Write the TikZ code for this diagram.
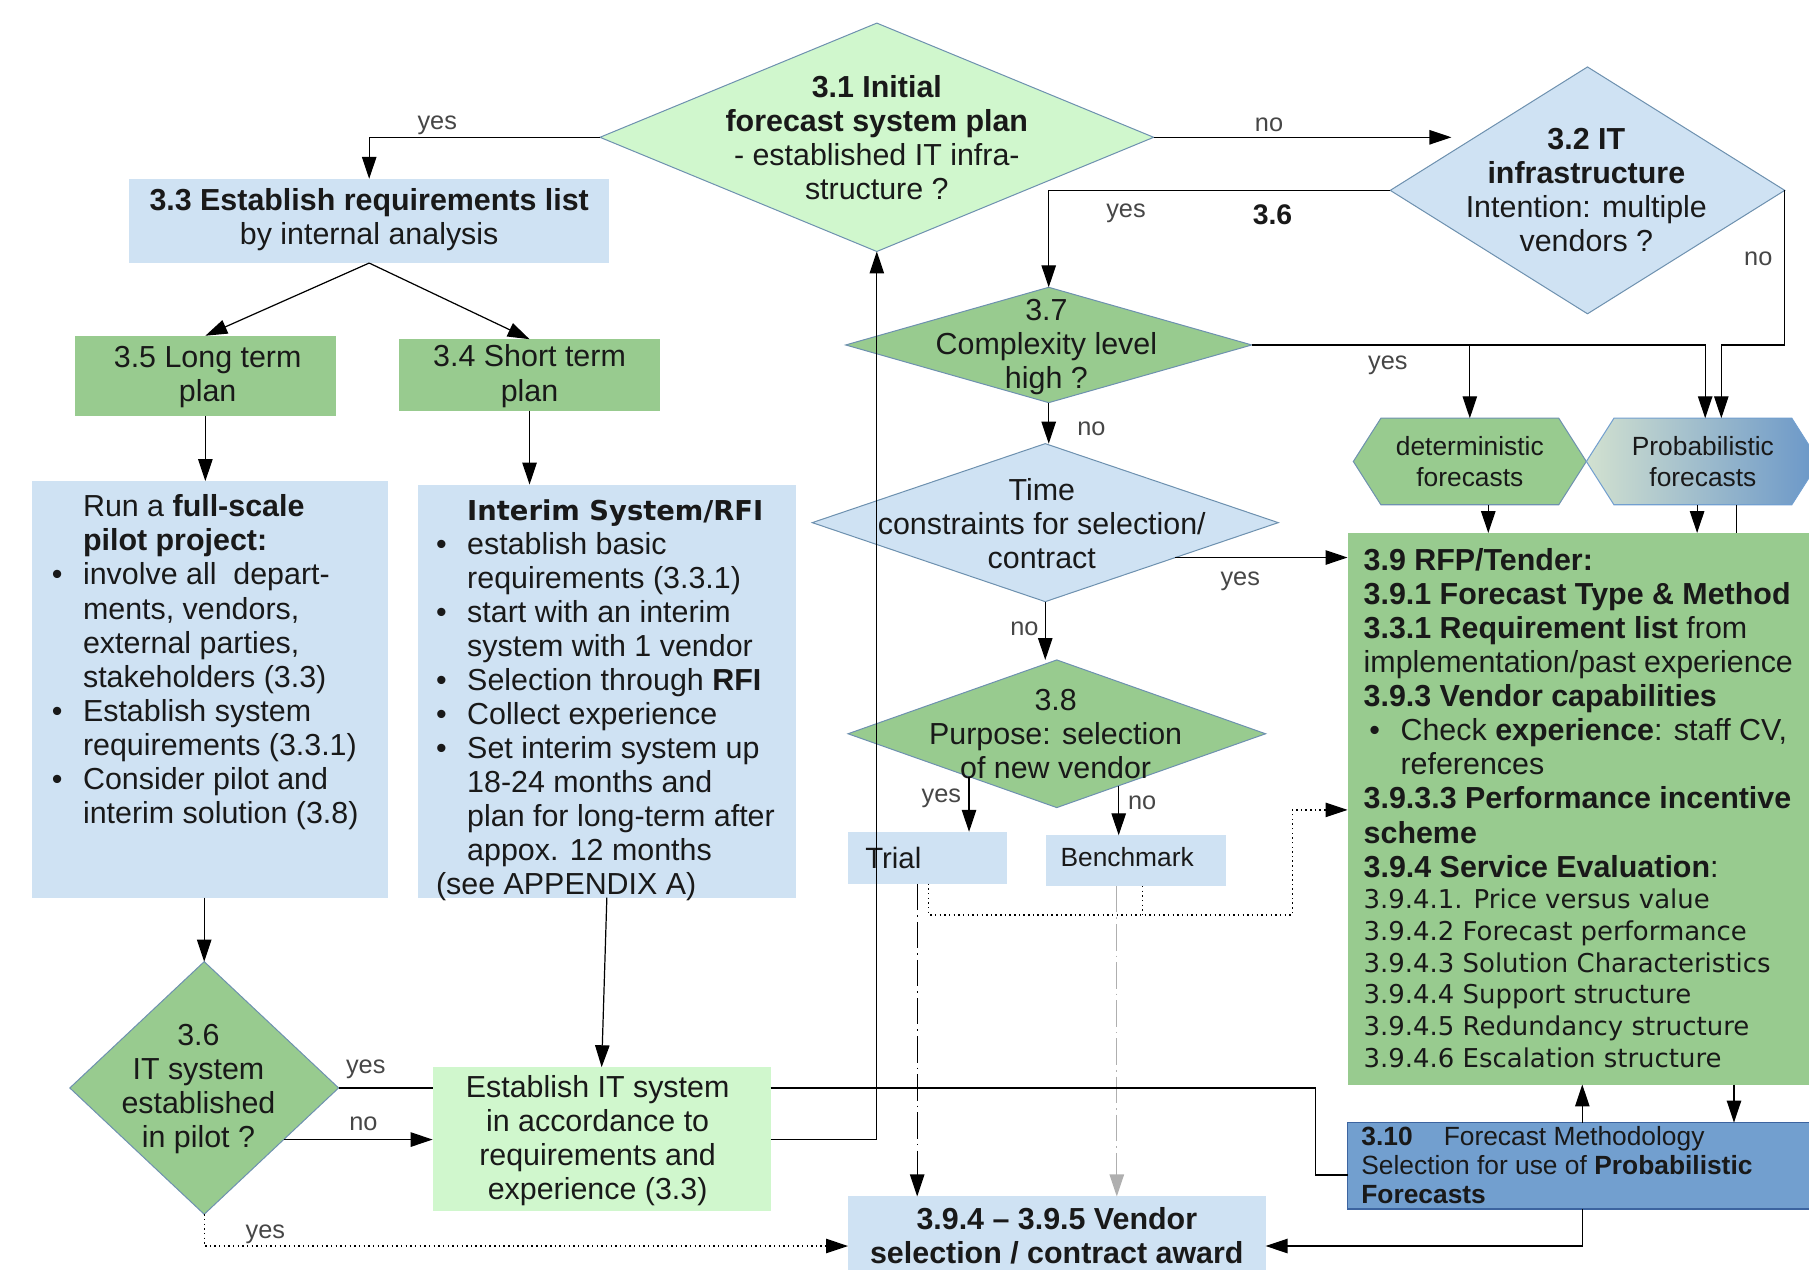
\documentclass[tikz,border=0pt]{standalone}
\usepackage{fontspec}
\setmainfont{Liberation Sans}
\newfontfamily\dejavu{DejaVu Sans}
\usepackage{tikz}
\usetikzlibrary{arrows.meta,shapes.geometric,shapes.symbols,fit,calc}
\definecolor{lblue}{RGB}{207,226,243}
\definecolor{pgreen}{RGB}{208,247,205}
\definecolor{mgreen}{RGB}{152,203,143}
\definecolor{dblue}{RGB}{114,159,207}
\definecolor{dbluedark}{RGB}{60,100,160}
\definecolor{dborder}{RGB}{110,145,175}
\definecolor{ink}{RGB}{25,25,25}
\definecolor{labgray}{RGB}{70,70,70}
\definecolor{lgray}{RGB}{175,175,175}
\definecolor{probl}{RGB}{210,225,208}
\definecolor{probr}{RGB}{105,150,200}
\newcommand{\bul}{\makebox[0.54cm][l]{\textbullet}}
\newcommand{\bulskip}{\hspace*{0.54cm}}

\begin{document}
\begin{tikzpicture}[x=0.02cm, y=-0.02cm,
  every node/.style={inner sep=0pt, outer sep=0pt},
  txt/.style={font=\fontsize{15}{16.8}\selectfont, text=ink, align=left},
  ctxt/.style={txt, align=center},
  lab/.style={font=\fontsize{12.5}{14}\selectfont, text=labgray},
  dia/.style={diamond, draw=dborder, line width=0.5pt, fill=#1},
  hexa/.style={signal, signal to=west and east, signal pointer angle=115, draw=dborder, line width=0.5pt, minimum width=4.04cm, minimum height=1.5cm, font=\fontsize{13}{15}\selectfont, text=ink, align=center},
  conn/.style={draw=black, line width=0.6pt},
  conarr/.style={conn, -{Triangle[length=0.38cm, width=0.25cm]}},
  dotted line/.style={dash pattern=on 0.7pt off 1.6pt},
  dashdot/.style={dash pattern=on 13pt off 2.5pt on 0.8pt off 2.5pt}]

  \useasboundingbox (0,0) rectangle (1568,1100);

  \node[dia=pgreen, minimum width=9.6cm, minimum height=3.96cm] (d31) at (760,119) {};
  \node[ctxt] (t31) at (760,119) {\textbf{3.1 Initial}\\\textbf{forecast system plan}\\- established IT infra-\\structure ?};
  \node[dia=lblue, minimum width=6.84cm, minimum height=4.28cm] (d32) at (1376,165) {};
  \node[ctxt] (t32) at (1375,165) {\textbf{3.2 IT}\\\textbf{infrastructure}\\Intention: multiple\\vendors ?};
  \node[dia=mgreen, minimum width=7.04cm, minimum height=2cm] (d37) at (909,299) {};
  \node[ctxt] (t37) at (907,301) {3.7\\Complexity level\\high ?};
  \node[dia=lblue, minimum width=8.08cm, minimum height=2.74cm] (dtime) at (906,453) {};
  \node[ctxt] (ttime) at (903,454) {Time\\constraints for selection/\\contract};
  \node[dia=mgreen, minimum width=7.24cm, minimum height=2.56cm] (d38) at (916,636) {};
  \node[ctxt] (t38) at (915,636) {3.8\\Purpose: selection\\of new vendor};
  \node[dia=mgreen, minimum width=4.66cm, minimum height=4.38cm] (d36) at (177,943) {};
  \node[ctxt] (t36) at (172,944) {3.6\\IT system\\established\\in pilot ?};

  \node[fill=lblue, fit={(112,155) (528,228)}] (b33) {};
  \node[ctxt] (t33) at (320,190) {\textbf{3.3 Establish requirements list}\\by internal analysis};
  \node[fill=mgreen, fit={(65,291) (291,361)}] (b35) {};
  \node[ctxt] (t35) at (180,327) {3.5 Long term\\plan};
  \node[fill=mgreen, fit={(346,294) (572,356)}] (b34) {};
  \node[ctxt] (t34) at (459,326) {3.4 Short term\\plan};
  \node[fill=lblue, fit={(28,417) (336,778)}] (brun) {};
  \node[txt, anchor=west] (runtxt) at (45,574) {\bulskip Run a \textbf{full-scale}\\\bulskip\textbf{pilot project:}\\\bul involve all\ \ depart-\\\bulskip ments, vendors,\\\bulskip external parties,\\\bulskip stakeholders (3.3)\\\bul Establish system\\\bulskip requirements (3.3.1)\\\bul Consider pilot and\\\bulskip interim solution (3.8)};
  \node[fill=lblue, fit={(362,420) (690,778)}] (bint) {};
  \node[txt, anchor=west] (inttxt) at (378,607) {\bulskip{\dejavu\bfseries\fontsize{13.5}{16.8}\selectfont Interim System/RFI}\\\bul establish basic\\\bulskip requirements (3.3.1)\\\bul start with an interim\\\bulskip system with 1 vendor\\\bul Selection through \textbf{RFI}\\\bul Collect experience\\\bul Set interim system up\\\bulskip 18-24 months and\\\bulskip plan for long-term after\\\bulskip appox. 12 months\\(see APPENDIX A)};
  \node[fill=pgreen, fit={(375,925) (668,1050)}] (est) {};
  \node[ctxt] (testab) at (518,989) {Establish IT system\\in accordance to\\requirements and\\experience (3.3)};
  \node[fill=lblue, fit={(735,721) (873,766)}] (trial) {};
  \node[txt, font=\fontsize{14.5}{16}\selectfont, anchor=west] (trialtxt) at (750,744) {Trial};
  \node[fill=lblue, fit={(907,724) (1063,768)}] (bench) {};
  \node[txt, font=\fontsize{13}{15}\selectfont] (benchtxt) at (977,743) {Benchmark};
  \node[fill=lblue, fit={(735,1037) (1097,1123)}] (vend) {};
  \node[ctxt, font=\bfseries\fontsize{15}{16.8}\selectfont] (vendtxt) at (916,1071) {3.9.4 – 3.9.5 Vendor\\selection / contract award};
  \node[fill=mgreen, fit={(1168,462) (1575,940)}] (rfp) {};
  \node[txt, anchor=west] (rfptxta) at (1182,618) {\textbf{3.9 RFP/Tender:}\\\textbf{3.9.1 Forecast Type \& Method}\\\textbf{3.3.1 Requirement list} from\\implementation/past experience\\\textbf{3.9.3 Vendor capabilities}\\\hspace*{0.1cm}\bul Check \textbf{experience}: staff CV,\\\hspace*{0.1cm}\bulskip references\\\textbf{3.9.3.3 Performance incentive}\\\textbf{scheme}\\\textbf{3.9.4 Service Evaluation}:};
  \node[txt, font=\dejavu\fontsize{12.8}{15.66}\selectfont, anchor=west] (rfptxtb) at (1182,848) {3.9.4.1. Price versus value\\3.9.4.2 Forecast performance\\3.9.4.3 Solution Characteristics\\3.9.4.4 Support structure\\3.9.4.5 Redundancy structure\\3.9.4.6 Escalation structure};
  \node[fill=dblue, draw=dbluedark, line width=0.6pt, fit={(1168,973) (1575,1048)}] (b310) {};
  \node[txt, font=\fontsize{13}{14.2}\selectfont, anchor=west] (t310) at (1180,1010) {\textbf{3.10}\hspace{0.54cm}Forecast Methodology\\Selection for use of \textbf{Probabilistic}\\\textbf{Forecasts}};

  \node[hexa, fill=mgreen] (det) at (1274,400) {deterministic\\forecasts};
  \node[hexa, left color=probl, right color=probr, draw=dblue] (prob) at (1476,400) {Probabilistic\\forecasts};

  \node[lab] (lyes31) at (379,109) {yes};
  \node[lab] (lno31) at (1100,108) {no};
  \node[lab] (lyes32) at (976,185) {yes};
  \node[font=\bfseries\fontsize{14}{16}\selectfont, text=ink] (l36) at (1103,186) {3.6};
  \node[lab] (lno32) at (1524,224) {no};
  \node[lab] (lyes37) at (1203,317) {yes};
  \node[lab] (lno37) at (946,372) {no};
  \node[lab] (lyestime) at (1075,504) {yes};
  \node[lab] (lnotime) at (888,545) {no};
  \node[lab] (lyes38) at (816,692) {yes};
  \node[lab] (lno38) at (990,696) {no};
  \node[lab] (lyes36a) at (317,927) {yes};
  \node[lab] (lno36) at (315,974) {no};
  \node[lab] (lyes36b) at (230,1070) {yes};

  \draw[conarr] (d31.west) -| (b33.north);
  \draw[conarr] (d31.east) -- ([xshift=-0.4cm]d31.east -| d32.155);
  \draw[conarr] (d32.west) -| (d37.north);
  \draw[conarr] (d32.east) -- (d32.east |- d37.east) -| ([xshift=0.32cm]prob.north);
  \draw[conarr] (d37.east) -| ([xshift=0.04cm]prob.north);
  \draw[conarr] (d37.east -| det.north) -- (det.north);
  \draw[conarr] (d37.south) -- (d37.south |- dtime.north);
  \draw[conarr] (dtime.-15) -- (dtime.-15 -| rfp.west);
  \draw[conarr] (dtime.south) -- (dtime.south |- d38.north);
  \draw[conarr] (d38.206) -- (d38.206 |- trial.north);
  \draw[conarr] (d38.-40) -- (d38.-40 |- bench.north);
  \draw[conarr, dashdot] ([xshift=-0.18cm]trial.south) -- ([xshift=-0.18cm]trial.south |- vend.north);
  \draw[conarr, dashdot, draw=lgray] ([xshift=-0.34cm]bench.south) -- ([xshift=-0.34cm]bench.south |- vend.north);
  \coordinate (dotturn) at (1120,702);
  \draw[conarr, dotted line] ([xshift=0.02cm]trial.south) -- ++(0,27) -| (dotturn) -- (dotturn -| rfp.west);
  \draw[conn, dotted line] ([xshift=0.1cm]bench.south) -- ++(0,25);

  \draw[conn] (d36.east) -- (d36.east -| est.west);
  \draw[conn] (d36.east -| est.east) -- ++(472,0) |- ([yshift=-0.16cm]b310.west);
  \draw[conarr] (d36.-33) -- (d36.-33 -| est.west);
  \draw[conarr, dotted line] (d36.south) |- (vend.west);
  \draw[conarr] (est.east) -| (d31.south);
  \draw[conarr] (b33.south) -- (b35.north);
  \draw[conarr] (b33.south) -- (b34.north);
  \draw[conarr] (b35.south) -- (b35.south |- brun.north);
  \draw[conarr] (b34.south) -- (b34.south |- bint.north);
  \draw[conarr] (d36.north |- brun.south) -- (d36.north);
  \draw[conarr] (bint.south) -- (est.north);
  \draw[conarr] ([xshift=0.32cm]det.south) -- ([xshift=0.32cm]det.south |- rfp.north);
  \draw[conarr] ([xshift=-0.1cm]prob.south) -- ([xshift=-0.1cm]prob.south |- rfp.north);
  \draw[conn] ([xshift=0.58cm]prob.south) -- ([xshift=0.58cm]prob.south |- rfp.north);
  \draw[conarr] (b310.north) -- (b310.north |- rfp.south);
  \draw[conarr] ([xshift=2.63cm]rfp.south) -- ([xshift=2.63cm]rfp.south |- b310.north);
  \draw[conarr] (b310.south) |- (vend.east);
\end{tikzpicture}
\end{document}
